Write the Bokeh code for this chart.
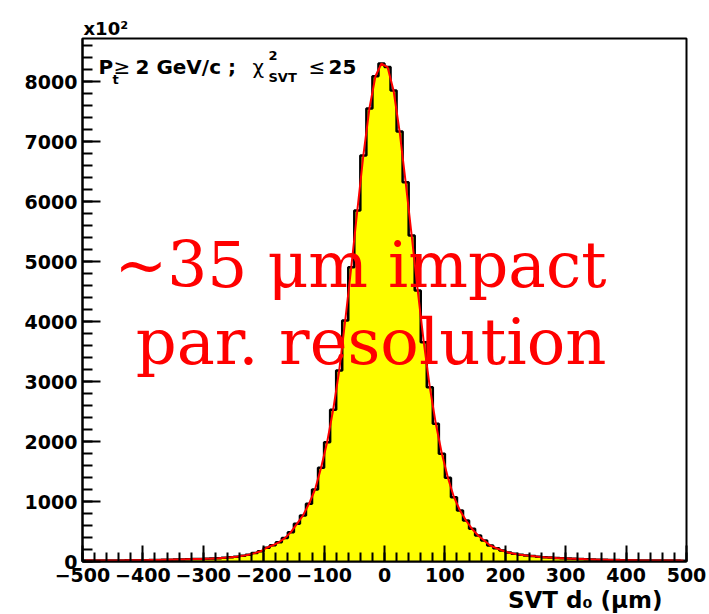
from bokeh.plotting import figure
from bokeh.models import Range1d, FixedTicker, Label, Title
from bokeh.embed import file_html
from bokeh.resources import INLINE

# ---------------- data ----------------
bin_low = list(range(-500, 500, 10))          # 100 bins of 10 um
counts = [
    15, 15, 16, 16, 17, 17, 18, 19, 20, 21,          # -500 .. -410
    22, 24, 26, 28, 30, 32, 34, 37, 40, 43,          # -400 .. -310
    47, 51, 56, 62, 70, 80, 94, 113, 140, 170,       # -300 .. -210
    230, 270, 320, 390, 489, 628, 767, 962, 1200, 1561,   # -200 .. -110
    1988, 2528, 3183, 4017, 4905, 5850, 6767, 7550, 8088, 8300,  # -100 .. -10
    8240, 7850, 7167, 6322, 5433, 4517, 3655, 2905, 2295, 1795,  # 0 .. 90
    1395, 1072, 850, 683, 544, 433, 350, 267, 222, 183,          # 100 .. 190
    150, 128, 112, 100, 90, 80, 72, 65, 58, 53,                  # 200 .. 290
    48, 44, 40, 36, 33, 30, 28, 26, 24, 22,                      # 300 .. 390
    20, 19, 18, 17, 17, 16, 16, 15, 15, 14,                      # 400 .. 490
]
bin_width = 10
x_major = list(range(-500, 501, 100))
x_minor = list(range(-500, 501, 20))
y_major = list(range(0, 8001, 1000))
y_minor = list(range(0, 8701, 200))
x_tick_labels = {v: (("\u2212" + str(-v)) if v < 0 else str(v)) for v in x_major}
y_tick_labels = {v: str(v) for v in y_major}
x_title = "SVT d\u2080 (\u03bcm)"
y_exponent = "x10\u00b2"
x_min, x_max = -500, 500
y_max = 8717

# ---------------- figure ----------------
W, H = 709, 614
FL, FR, FT, FB = 82, 686, 38, 561   # frame edges in pixels

p = figure(width=W, height=H, output_backend="svg", toolbar_location=None,
           x_range=Range1d(x_min, x_max), y_range=Range1d(0, y_max),
           min_border_left=FL, min_border_right=W - FR,
           min_border_top=FT, min_border_bottom=H - FB)
p.background_fill_color = "white"
p.border_fill_color = "white"
p.outline_line_color = "black"
p.outline_line_width = 2
p.xgrid.visible = False
p.ygrid.visible = False

# exponent of the y axis, as a title above the frame
p.title.text = y_exponent
p.title.align = "left"
p.title.offset = 1
p.title.standoff = 0
p.title.text_font = "DejaVu Sans"
p.title.text_font_style = "bold"
p.title.text_font_size = "18px"
p.title.text_color = "black"

lefts = bin_low
rights = [b + bin_width for b in bin_low]
step_x = lefts + [rights[-1]]
step_y = counts + [counts[-1]]
p.varea_step(x=step_x, y1=[0] * len(step_x), y2=step_y, step_mode="after",
             fill_color="#ffff00")
p.step(x=step_x, y=step_y, mode="after", line_color="black", line_width=2.5)

centers = [b + bin_width / 2 for b in bin_low]
p.line(x=centers, y=counts, line_color="#ff0000", line_width=2)

# axes styling (ROOT style: ticks inside)
for ax in (p.xaxis[0], p.yaxis[0]):
    ax.axis_line_width = 2
    ax.axis_line_color = "black"
    ax.major_tick_line_width = 2
    ax.minor_tick_line_width = 2
    ax.major_tick_out = 0
    ax.minor_tick_out = 0
    ax.major_label_text_font = "DejaVu Sans"
    ax.major_label_text_font_style = "bold"
    ax.major_label_text_font_size = "19px"
    ax.major_label_text_color = "black"

p.xaxis.ticker = FixedTicker(ticks=x_major, minor_ticks=x_minor)
p.yaxis.ticker = FixedTicker(ticks=y_major, minor_ticks=y_minor)
p.xaxis.major_label_overrides = x_tick_labels
p.yaxis.major_label_overrides = y_tick_labels
p.xaxis.major_tick_in = 16
p.xaxis.minor_tick_in = 9
p.yaxis.major_tick_in = 18
p.yaxis.minor_tick_in = 10
p.xaxis.major_label_standoff = 6
p.yaxis.major_label_standoff = 5

# x axis title, right aligned below the tick labels
xt = Title(text=x_title, align="right", offset=24, standoff=0,
           text_font="DejaVu Sans", text_font_style="bold",
           text_font_size="23px", text_color="black")
p.add_layout(xt, "below")


def X(px):
    return x_min + (px - FL) * (x_max - x_min) / (FR - FL)


def Y(py):
    return (FB - py) * y_max / (FB - FT)


def txt(t, px, py, size, font="DejaVu Sans", style="bold", color="black", align="left"):
    # py is the wanted baseline; compensate renderer baseline offset
    p.add_layout(Label(x=X(px), y=Y(py - 0.4 * size), text=t, text_font=font,
                       text_font_style=style, text_font_size=f"{size}px",
                       text_color=color, text_align=align,
                       text_baseline="alphabetic"))


# cut annotation
txt("P", 98, 74, 20)
txt("t", 112, 84, 13)
txt("\u2265", 113, 74, 20, style="normal")
txt("2 GeV/c ;", 135, 74, 20)
txt("\u03c7", 252, 74, 20, style="normal")
txt("2", 268, 60, 13)
txt("SVT", 268, 82, 13)
txt("\u2264", 308, 74, 20, style="normal")
txt("25", 328, 74, 20)

# big red annotation
txt("~35 \u03bcm impact", 606, 290, 63, font="DejaVu Serif", style="normal",
    color="#ff0000", align="right")
txt("par. resolution", 606, 367, 64, font="DejaVu Serif", style="normal",
    color="#ff0000", align="right")

open("out.html", "w").write(file_html(p, INLINE))
